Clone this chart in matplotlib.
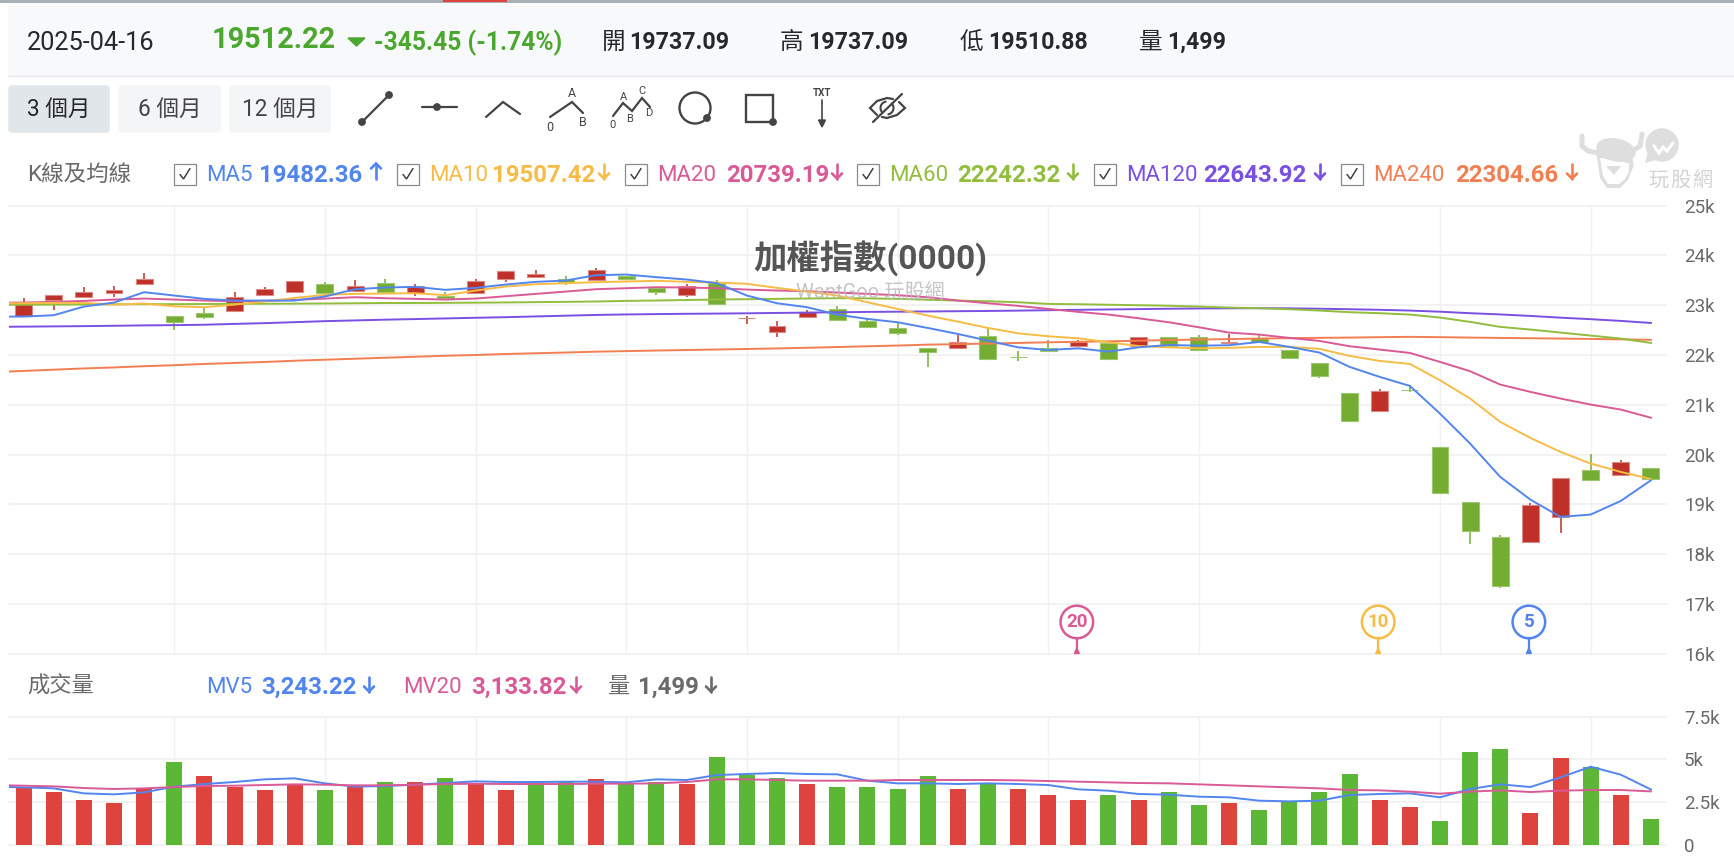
import matplotlib
matplotlib.use("Agg")
import matplotlib.pyplot as plt
from matplotlib.patches import Rectangle, Circle, FancyBboxPatch, Polygon, Ellipse, Arc

# Daily candles for the TAIEX over three months (open, close, high, low)
opens = [22792,23107,23175,23242,23430,22779,22846,22893,23215,23268,23430,23282,23456,23242,23195,
         23248,23537,23564,23524,23497,23591,23342,23208,23443,22745,22463,22758,22933,22685,22550,
         22134,22148,22389,21966,22134,22181,22235,22188,22356,22356,22250,22344,22109,21848,21238,
         20877,21305,20153,19055,18345,18238,18747,19698,19584,19737.09]
closes = [23027,23201,23262,23302,23530,22665,22758,23161,23329,23490,23242,23389,23275,23389,23141,
          23490,23685,23624,23470,23711,23530,23275,23389,23027,22750,22584,22859,22705,22571,22436,
          22054,22255,21926,21960,22087,22269,21926,22356,22188,22096,22263,22263,21935,21580,20682,
          21279,21290,19236,18465,17367,18995,19537,19490,19859,19512.22]
highs = [23148,23201,23369,23396,23651,22779,22960,23268,23369,23490,23463,23497,23537,23430,23262,
         23530,23685,23698,23591,23752,23591,23342,23430,23497,22792,22691,22913,22980,22745,22638,
         22134,22403,22544,22074,22309,22309,22235,22356,22356,22403,22431,22410,22109,21848,21238,
         21312,21392,20153,19055,18392,19035,19537,20019,19899,19737.09]
lows = [22792,22913,23175,23175,23430,22503,22725,22893,23215,23268,23161,23282,23275,23195,23141,
        23248,23463,23564,23409,23497,23497,23208,23175,23027,22624,22369,22758,22705,22571,22396,
        21752,22148,21926,21886,22087,22181,21926,22188,22188,22096,22250,22263,21935,21540,20682,
        20877,21252,19236,18197,17327,18238,18425,19490,19584,19510.88]

# Moving averages; the first entry is the session just before the visible range
ma5 = [22772,22772,22799,22973,23054,23262,23195,23128,23094,23094,23094,23175,23322,23356,23369,23309,
       23349,23416,23470,23497,23604,23617,23564,23517,23443,23195,23040,22960,22812,22725,22658,22544,
       22423,22289,22154,22101,22134,22067,22154,22201,22188,22196,22263,22163,22049,21761,21560,21379,
       20823,20220,19550,19094,18747,18794,19068,19482.36]
ma10 = [23040,23040,23047,23047,23013,23034,22980,22960,23013,23074,23148,23208,23228,23235,23242,23201,
        23295,23376,23423,23443,23463,23477,23490,23470,23456,23430,23349,23275,23195,23060,22926,22792,
        22671,22544,22436,22376,22336,22255,22181,22154,22134,22143,22163,22163,22123,21982,21881,21821,
        21493,21125,20656,20334,20053,19818,19651,19507.42]
ma20 = [23050,23054,23067,23087,23114,23134,23114,23094,23081,23087,23107,23134,23161,23141,23128,23114,
        23134,23181,23228,23275,23322,23342,23362,23356,23342,23315,23295,23282,23255,23228,23201,23161,
        23094,23040,22987,22926,22866,22812,22738,22658,22557,22451,22410,22344,22283,22176,22109,22042,
        21861,21674,21406,21259,21125,21004,20904,20739.19]
ma60 = [23008,23010,23012,23015,23018,23020,23022,23025,23028,23030,23032,23035,23040,23045,23045,23048,
        23052,23056,23062,23068,23075,23087,23095,23105,23115,23121,23128,23135,23141,23138,23128,23110,
        23094,23080,23060,23027,23020,23010,23000,22990,22973,22953,22940,22920,22893,22860,22840,22812,
        22752,22665,22565,22511,22451,22390,22330,22242.32]
ma120 = [22565,22570,22575,22580,22587,22595,22600,22608,22625,22640,22660,22680,22695,22710,22722,22735,
         22748,22760,22775,22790,22805,22815,22822,22828,22832,22838,22845,22852,22858,22866,22870,22875,
         22880,22885,22892,22900,22908,22915,22922,22930,22935,22938,22940,22938,22930,22920,22908,22893,
         22870,22840,22815,22785,22750,22720,22685,22643.92]
ma240 = [21655,21680,21705,21730,21750,21775,21795,21820,21840,21860,21885,21905,21925,21945,21965,21985,
         22000,22020,22035,22050,22067,22078,22090,22100,22110,22121,22132,22145,22160,22175,22190,22208,
         22218,22230,22242,22255,22265,22275,22288,22300,22310,22320,22330,22338,22345,22350,22358,22365,
         22358,22350,22343,22337,22330,22323,22315,22304.66]

# Traded volume and its averages
volume = [3312,3097,2630,2435,3312,4870,4032,3409,3195,3487,3195,3409,3662,3662,3935,3545,3195,3662,3701,
          3857,3604,3701,3565,5143,4091,3935,3565,3370,3370,3273,4032,3273,3604,3273,2922,2630,2922,2630,
          3078,2338,2435,2045,2591,3078,4130,2630,2240,1403,5435,5610,1870,5065,4539,2922,1499]
volume_dir = list("RRRRRGRRRRGRGRGRRGGRGGRGGGRGGGGRGRRRGRGGRGGGGRRGGGRRGRG")
mv5 = [3409,3370,3312,3019,2961,3078,3409,3565,3682,3838,3896,3604,3409,3448,3526,3623,3721,3682,3682,3701,
       3701,3662,3838,3799,4091,4149,4208,4149,4130,3760,3604,3604,3565,3604,3565,3506,3253,3175,2980,2941,
       2825,2786,2591,2552,2591,2922,2980,3019,2786,3273,3545,3390,3954,4578,4110,3243.22]
mv20 = [3506,3467,3428,3331,3273,3312,3390,3448,3467,3506,3545,3526,3487,3487,3526,3565,3584,3565,3565,3565,
        3584,3584,3604,3682,3838,3838,3799,3760,3760,3760,3799,3799,3799,3799,3779,3740,3701,3662,3623,3604,
        3545,3487,3428,3370,3312,3214,3195,3117,3000,3117,3195,3097,3175,3214,3214,3133.82]

# Vertical grid falls on the month and week breaks
grid_sessions = [5, 10, 15, 20, 24, 29, 34, 39, 47, 52]
price_ticks = [16000, 17000, 18000, 19000, 20000, 21000, 22000, 23000, 24000, 25000]
price_labels = ["16k", "17k", "18k", "19k", "20k", "21k", "22k", "23k", "24k", "25k"]
volume_ticks = [0, 2500, 5000, 7500]
volume_labels = ["0", "2.5k", "5k", "7.5k"]

# Sessions where an average's window rolls over
pin_sessions = [35, 45, 50]
pin_labels = ["20", "10", "5"]

C_MA5, C_MA10, C_MA20 = "#5285EE", "#F7BC45", "#D95A96"
C_MA60, C_MA120, C_MA240 = "#92BD3D", "#7A50E3", "#F27F52"
C_UP, C_UP_EDGE = "#BF3028", "#D98A85"
C_DN, C_DN_EDGE = "#74AD32", "#9CC76F"
C_VUP, C_VDN = "#DE443D", "#5DB736"
C_GRID = "#F1F1F2"
C_TEXT = "#26282B"
C_MUTED = "#6A6A6A"
FONT = ["Roboto", "Noto Sans CJK TC", "DejaVu Sans"]
plt.rcParams["font.family"] = FONT

W, H = 1734, 860
fig = plt.figure(figsize=(W / 100, H / 100), dpi=100, facecolor="white")


def panel(left, right, top, bottom):
    return fig.add_axes([left / W, 1 - bottom / H, (right - left) / W, (bottom - top) / H])


LEFT, RIGHT = 8.5, 1666
ax = panel(LEFT, RIGHT, 205.7, 653.6)
av = panel(LEFT, RIGHT, 716.7, 845)

for a, ticks, labels, ylim in ((ax, price_ticks, price_labels, (16000, 25000)),
                               (av, volume_ticks, volume_labels, (0, 7500))):
    a.set_xlim(-0.5, 54.5)
    a.set_ylim(*ylim)
    a.set_facecolor("none")
    for s in a.spines.values():
        s.set_visible(False)
    a.set_xticks([])
    a.yaxis.tick_right()
    a.set_yticks(ticks)
    a.set_yticklabels(labels, color=C_MUTED, fontsize=13.5)
    a.tick_params(axis="y", length=0, pad=13)
    for t in ticks:
        a.axhline(t, color=C_GRID, lw=1.3, zorder=0, clip_on=False)
    for s in grid_sessions:
        a.axvline(s, color=C_GRID, lw=1.0, zorder=0)

# Candles
sessions = list(range(len(opens)))
for i, o, c, h, l in zip(sessions, opens, closes, highs, lows):
    up = c >= o
    col, edge = (C_UP, C_UP_EDGE) if up else (C_DN, C_DN_EDGE)
    ax.vlines(i, l, h, color=col, lw=1.1, zorder=2)
    ax.bar(i, abs(c - o), bottom=min(o, c), width=0.56, color=col, edgecolor=edge, lw=0.8, zorder=3)

# Averages over the candles
ma_x = [-1] + sessions
for series, col in ((ma240, C_MA240), (ma120, C_MA120), (ma60, C_MA60),
                    (ma20, C_MA20), (ma10, C_MA10), (ma5, C_MA5)):
    ax.plot(ma_x, series, color=col, lw=1.4, zorder=4, solid_joinstyle="round")

# Volume bars and averages
for i, v, d in zip(sessions, volume, volume_dir):
    av.bar(i, v, width=0.53, color=C_VUP if d == "R" else C_VDN, zorder=2)
av.plot(ma_x, mv5, color=C_MA5, lw=1.4, zorder=4)
av.plot(ma_x, mv20, color=C_MA20, lw=1.4, zorder=4)

# Everything else is laid out on a pixel-addressed overlay
ov = fig.add_axes([0, 0, 1, 1], zorder=10)
ov.set_xlim(0, W)
ov.set_ylim(H, 0)
ov.axis("off")
ov.patch.set_alpha(0)


def T(x, y, s, color=C_TEXT, size=12, weight="normal", ha="left", alpha=1.0):
    ov.text(x, y + 1.5, s, color=color, fontsize=size, fontweight=weight, ha=ha, va="center",
            alpha=alpha, family=FONT)


# Pins marking where each average's window rolls over
pin_colors = [C_MA20, C_MA10, C_MA5]
for s, lab, col in zip(pin_sessions, pin_labels, pin_colors):
    px = LEFT + (s + 0.5) / 55 * (RIGHT - LEFT) - 1.5
    ov.plot([px, px], [638, 652], color=col, lw=1.6)
    ov.add_patch(Polygon([[px - 2.5, 653.5], [px + 2.5, 653.5], [px, 648]], color=col))
    ov.add_patch(Circle((px, 622), 16.3, fc="white", ec=col, lw=1.8))
    T(px, 620.5, lab, col, 13.5, "bold", "center")

# Top strip and quote summary
ov.add_patch(Rectangle((8, 3), W - 8, 73, fc="#F8F9FB", ec="none"))
ov.add_patch(Rectangle((0, 0), W, 3, fc="#A9B0B5", ec="none"))
ov.add_patch(Rectangle((443, 0), 64, 1.6, fc="#DE443D", ec="none"))
ov.plot([8, W], [76, 76], color="#E8E9EF", lw=1)

T(27, 41, "2025-04-16", C_TEXT, 18.2)
T(212, 39, "19512.22", "#4BA82E", 20.8, "bold")
ov.add_patch(Polygon([[348, 38], [365, 38], [356.5, 46]], color="#4BA82E"))
T(374, 41, "-345.45 (-1.74%)", "#4BA82E", 17.7, "bold")
for x0, x1, label, value in ((602, 629, "開", "19737.09"), (780, 808, "高", "19737.09"),
                             (960, 988, "低", "19510.88"), (1139, 1167, "量", "1,499")):
    T(x0, 41, label, C_TEXT, 17)
    T(x1, 41, value, C_TEXT, 16.7, "bold")

# Range buttons
for x0, x1, label, fc in ((8, 110, "3 個月", "#E1E6EA"), (118, 221, "6 個月", "#F4F5F7"),
                          (229, 331, "12 個月", "#F4F5F7")):
    ov.add_patch(FancyBboxPatch((x0 + 2, 87), x1 - x0 - 4, 44, boxstyle="round,pad=0,rounding_size=2",
                                fc=fc, ec=fc, lw=2.5))
    T((x0 + x1) / 2, 108, label, C_TEXT if x0 == 8 else "#444444", 16.3, ha="center")

# Drawing tools
IC = "#444444"


def poly(pts, lw=1.6, color=IC):
    ov.plot([p[0] for p in pts], [p[1] for p in pts], color=color, lw=lw,
            solid_capstyle="round", solid_joinstyle="miter")


def dot(x, y, r=3.2, color=IC):
    ov.add_patch(Circle((x, y), r, color=color))


poly([(362, 122), (389, 95)]); dot(362, 122); dot(389, 95)
poly([(422, 107), (457, 107)]); dot(437, 107)
poly([(486, 117), (503, 102), (520, 114)])
poly([(550, 117), (572, 102), (583, 113)])
for x, y, s in ((572, 92, "A"), (583, 121, "B"), (550, 126, "0")):
    T(x, y, s, IC, 9, ha="center")
poly([(613, 116), (623, 103), (632, 111), (642, 98), (650, 107)])
for x, y, s in ((623, 96, "A"), (630, 118, "B"), (642, 89, "C"), (649, 112, "D"), (612, 123, "0")):
    T(x, y, s, IC, 8, ha="center")
ov.add_patch(Ellipse((695, 108), 31, 31, fc="none", ec=IC, lw=1.7))
dot(707, 118)
ov.add_patch(Rectangle((746, 95), 27, 27, fc="none", ec=IC, lw=1.7))
dot(773, 122)
T(822, 92, "TXT", IC, 7, "bold", "center")
poly([(822, 100), (822, 122)], lw=1.2)
ov.add_patch(Polygon([[818.5, 120], [825.5, 120], [822, 127]], color=IC))
poly([(877, 115), (870, 108), (877, 101), (887, 98), (893, 99)])
poly([(899, 102), (905, 108), (897, 115), (887, 118), (882, 117)])
poly([(902, 94), (873, 122)])
ov.add_patch(Arc((887, 108), 13, 13, angle=0, theta1=130, theta2=265, color=IC, lw=1.5))
ov.add_patch(Arc((887, 108), 13, 13, angle=0, theta1=-50, theta2=85, color=IC, lw=1.5))


def arrow(x, y, color, up):
    top, bot = y - 7.5, y + 7.5
    poly([(x, top), (x, bot)], lw=1.9, color=color)
    if up:
        poly([(x - 5, top + 5), (x, top), (x + 5, top + 5)], lw=1.9, color=color)
    else:
        poly([(x - 5, bot - 5), (x, bot), (x + 5, bot - 5)], lw=1.9, color=color)


# Moving-average legend row
T(27, 174, "K線及均線", C_MUTED, 16.2)
legend_rows = [
    (174, 206, 259, 376, "MA5", "19482.36", C_MA5, True),
    (397, 429, 492, 604, "MA10", "19507.42", C_MA10, False),
    (625, 657, 726, 837, "MA20", "20739.19", C_MA20, False),
    (857, 889, 957, 1073, "MA60", "22242.32", C_MA60, False),
    (1094, 1126, 1203, 1320, "MA120", "22643.92", C_MA120, False),
    (1341, 1373, 1455, 1572, "MA240", "22304.66", C_MA240, False),
]
for bx, nx, vx, ax_x, name, val, col, up in legend_rows:
    ov.add_patch(Rectangle((bx, 163.5), 21.5, 21, fc="white", ec="#8A8A8A", lw=0.9))
    poly([(bx + 6, 174.5), (bx + 9.5, 179), (bx + 16, 168.5)], lw=1.0, color="#333333")
    T(nx, 174, name, col, 16)
    T(vx, 174, val, col, 17.3, "bold")
    arrow(ax_x, 171, col, up)

# Volume legend row
T(27, 686, "成交量", C_MUTED, 16)
T(206, 686, "MV5", C_MA5, 16)
T(261, 686, "3,243.22", C_MA5, 17.3, "bold")
arrow(369, 684, C_MA5, False)
T(403, 686, "MV20", C_MA20, 16)
T(471, 686, "3,133.82", C_MA20, 17.3, "bold")
arrow(576, 684, C_MA20, False)
T(608, 686, "量", C_MUTED, 16)
T(638, 686, "1,499", C_MUTED, 17.3, "bold")
arrow(711, 684, C_MUTED, False)

# Chart title and brand marks
T(870, 257, "加權指數(0000)", "#555555", 24, "bold", "center")
T(870, 292, "WantGoo 玩股網", "#BBBBBB", 14.5, ha="center", alpha=0.85)

LOGO = "#DEDEDE"
ov.add_patch(Circle((1662, 145), 16.7, fc=LOGO, ec="none"))
ov.add_patch(Polygon([[1648, 152], [1656, 160], [1645, 163]], fc=LOGO, ec="none"))
poly([(1654, 146), (1659, 153), (1663, 147), (1667, 151), (1673, 143)], lw=2.2, color="white")
ov.add_patch(Polygon([[1596, 150], [1630, 150], [1634, 165], [1628, 180], [1620, 188], [1607, 188], [1600, 178]],
                     fc=LOGO, ec="none"))
ov.add_patch(Polygon([[1600, 158], [1629, 162], [1629, 172], [1625, 179], [1619, 184], [1608, 184], [1603, 176]],
                     fc="white", ec="none"))
ov.add_patch(Ellipse((1616, 150), 40, 23, angle=12, fc=LOGO, ec="none"))
poly([(1582, 136), (1582, 146), (1588, 151), (1598, 153)], lw=3.6, color=LOGO)
poly([(1642, 134), (1640, 146), (1634, 150), (1626, 152)], lw=3.6, color=LOGO)
ov.add_patch(Circle((1627, 160), 3, fc=LOGO, ec="none"))
ov.add_patch(Polygon([[1606, 166], [1621, 166], [1614, 175]], fc=LOGO, ec="none"))
for cx, ch in ((1658, "玩"), (1680, "股"), (1702, "網")):
    T(cx, 179, ch, "#D3D3D3", 14.5, ha="center")

fig.savefig("out.png", dpi=100)
